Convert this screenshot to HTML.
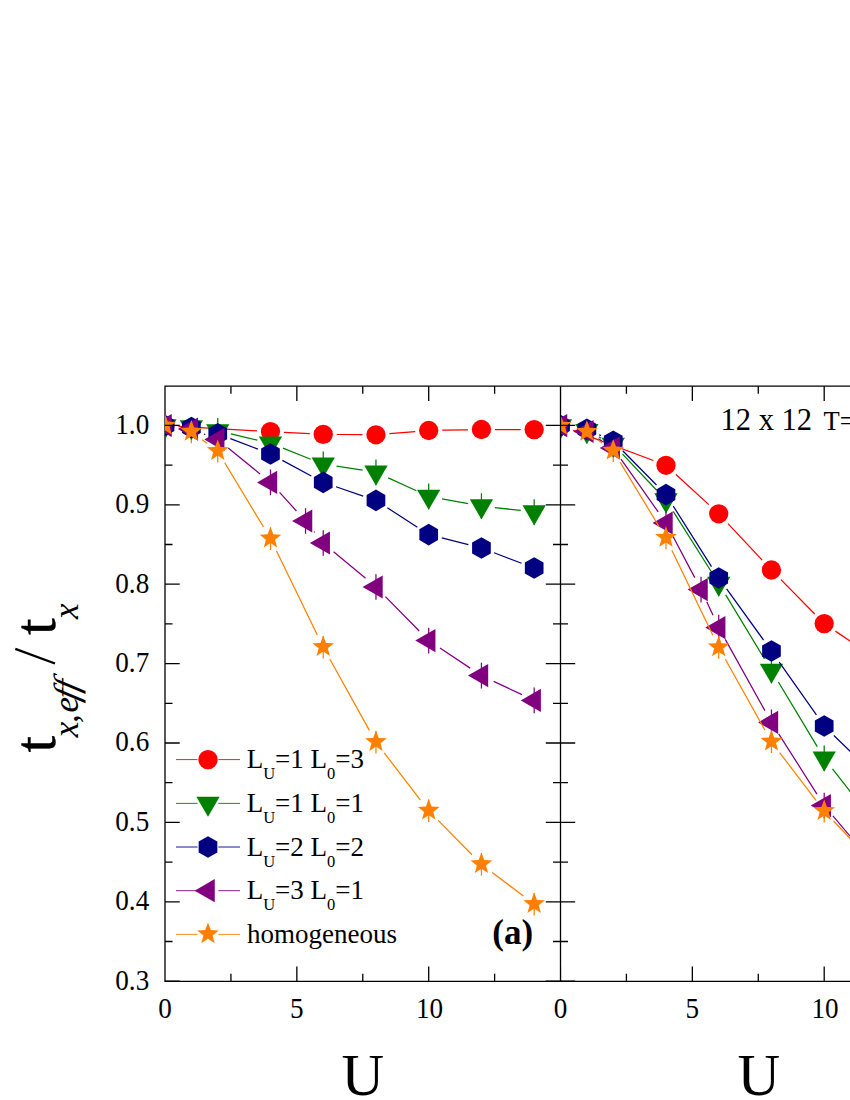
<!DOCTYPE html>
<html><head><meta charset="utf-8"><title>chart</title><style>html,body{margin:0;padding:0;background:#fff}body{width:850px;height:1100px;position:relative;overflow:hidden;font-family:"Liberation Serif",serif}</style></head><body>
<svg width="850" height="1100" viewBox="0 0 850 1100" style="position:absolute;left:0;top:0">
<defs><clipPath id="ca"><rect x="165" y="380" width="396" height="610"/></clipPath><clipPath id="cb"><rect x="560.5" y="380" width="300" height="610"/></clipPath></defs>
<g stroke="#000" stroke-width="1.3" fill="none">
<path d="M165 981.95 V386.2 H851 M165 981.3 H851"/>
</g>
<g clip-path="url(#ca)">

<path d="M217.74 418.1V443.7M270.48 430.4V456M323.22 451.4V477M375.96 459.4V485M428.7 483.6V509.2M481.44 493.2V518.8M534.18 499.2V524.8" stroke="#008000" stroke-width="1.25" fill="none"/>

<path d="M270.48 469.6V495.2M305.55 508.2V533.8M323.22 530.2V555.8M375.96 574.2V599.8M428.7 627.8V653.4M481.44 662.8V688.4M534.18 687.6V713.2" stroke="#800080" stroke-width="1.25" fill="none"/>
<path d="M191.37 420.6V443.2M217.74 439.9V462.5M270.48 527.3V549.9M323.22 635.9V658.5M375.96 730.9V753.5M428.7 799.5V822.1M481.44 853V875.6M534.18 892.9V915.5" stroke="#ff8000" stroke-width="1.25" fill="none"/>
</g><g clip-path="url(#cb)">

<path d="M613.24 431.6V457.2M665.98 487.2V512.8M718.72 570.6V596.2M771.46 657.6V683.2M824.2 745.4V771M876.94 813.1V838.7" stroke="#008000" stroke-width="1.25" fill="none"/>

<path d="M665.98 510.2V535.8M701.05 576.8V602.4M718.72 614.8V640.4M771.46 709.6V735.2M824.2 792.8V818.4M876.94 855.2V880.8" stroke="#800080" stroke-width="1.25" fill="none"/>
<path d="M586.87 420.7V443.3M613.24 439.5V462.1M665.98 526.7V549.3M718.72 636.2V658.8M771.46 730.5V753.1M824.2 799.9V822.5M876.94 855.2V877.8" stroke="#ff8000" stroke-width="1.25" fill="none"/>
</g>
<g clip-path="url(#ca)">
<path d="M178.48 426.28L257 430.82M283.96 432.32L309.74 433.68M336.72 434.5L362.46 434.7M389.42 433.7L415.24 431.6M442.2 430.24L467.94 429.76M494.94 429.53L520.68 429.57" stroke="#ff0000" stroke-width="1.25" fill="none"/>
<circle cx="165" cy="425.5" r="9.65" fill="#ff0000"/>
<circle cx="270.48" cy="431.6" r="9.65" fill="#ff0000"/>
<circle cx="323.22" cy="434.4" r="9.65" fill="#ff0000"/>
<circle cx="375.96" cy="434.8" r="9.65" fill="#ff0000"/>
<circle cx="428.7" cy="430.5" r="9.65" fill="#ff0000"/>
<circle cx="481.44" cy="429.5" r="9.65" fill="#ff0000"/>
<circle cx="534.18" cy="429.6" r="9.65" fill="#ff0000"/>
<path d="M230.89 433.97L257.33 440.13M283.02 448.19L310.68 459.21M336.57 466.22L362.61 470.18M388.23 477.83L416.43 490.77M441.98 498.82L468.16 503.58M494.85 507.53L520.77 510.47" stroke="#008000" stroke-width="1.25" fill="none"/>
<polygon points="153.35,419.27 176.65,419.27 165,439.47" fill="#008000"/>
<polygon points="179.72,420.17 203.02,420.17 191.37,440.37" fill="#008000"/>
<polygon points="206.09,424.17 229.39,424.17 217.74,444.37" fill="#008000"/>
<polygon points="258.83,436.47 282.13,436.47 270.48,456.67" fill="#008000"/>
<polygon points="311.57,457.47 334.87,457.47 323.22,477.67" fill="#008000"/>
<polygon points="364.31,465.47 387.61,465.47 375.96,485.67" fill="#008000"/>
<polygon points="417.05,489.67 440.35,489.67 428.7,509.87" fill="#008000"/>
<polygon points="469.79,499.27 493.09,499.27 481.44,519.47" fill="#008000"/>
<polygon points="522.53,505.27 545.83,505.27 534.18,525.47" fill="#008000"/>
<path d="M230.35 438.63L257.87 449.17M282.37 460.4L311.33 476M336 486.76L363.18 496.04M387.29 507.75L417.37 527.25M441.78 537.92L468.36 544.68M494.06 552.79L521.56 563.21" stroke="#000080" stroke-width="1.25" fill="none"/>
<polygon points="165,414.7 174.35,420.1 174.35,430.9 165,436.3 155.65,430.9 155.65,420.1" fill="#000080"/>
<polygon points="191.37,416.7 200.72,422.1 200.72,432.9 191.37,438.3 182.02,432.9 182.02,422.1" fill="#000080"/>
<polygon points="217.74,423 227.09,428.4 227.09,439.2 217.74,444.6 208.39,439.2 208.39,428.4" fill="#000080"/>
<polygon points="270.48,443.2 279.83,448.6 279.83,459.4 270.48,464.8 261.13,459.4 261.13,448.6" fill="#000080"/>
<polygon points="323.22,471.6 332.57,477 332.57,487.8 323.22,493.2 313.87,487.8 313.87,477" fill="#000080"/>
<polygon points="375.96,489.6 385.31,495 385.31,505.8 375.96,511.2 366.61,505.8 366.61,495" fill="#000080"/>
<polygon points="428.7,523.8 438.05,529.2 438.05,540 428.7,545.4 419.35,540 419.35,529.2" fill="#000080"/>
<polygon points="481.44,537.2 490.79,542.6 490.79,553.4 481.44,558.8 472.09,553.4 472.09,542.6" fill="#000080"/>
<polygon points="534.18,557.2 543.53,562.6 543.53,573.4 534.18,578.8 524.83,573.4 524.83,562.6" fill="#000080"/>
<path d="M203.91 434.09L205.2 434.61M228.22 448.11L260 473.89M279.56 492.39L296.47 511.01M314.01 531.53L314.77 532.47M333.59 551.65L365.59 578.35M385.43 596.62L419.23 630.98M439.95 648.06L470.19 668.14M493.66 681.34L521.96 694.66" stroke="#800080" stroke-width="1.25" fill="none"/>
<polygon points="151.57,425.5 171.72,413.9 171.72,437.1" fill="#800080"/>
<polygon points="177.94,429.1 198.09,417.5 198.09,440.7" fill="#800080"/>
<polygon points="204.31,439.6 224.46,428 224.46,451.2" fill="#800080"/>
<polygon points="257.05,482.4 277.2,470.8 277.2,494" fill="#800080"/>
<polygon points="292.12,521 312.27,509.4 312.27,532.6" fill="#800080"/>
<polygon points="309.79,543 329.94,531.4 329.94,554.6" fill="#800080"/>
<polygon points="362.53,587 382.68,575.4 382.68,598.6" fill="#800080"/>
<polygon points="415.27,640.6 435.42,629 435.42,652.2" fill="#800080"/>
<polygon points="468.01,675.6 488.16,664 488.16,687.2" fill="#800080"/>
<polygon points="520.75,700.4 540.9,688.8 540.9,712" fill="#800080"/>
<path d="M202.26 439.87L206.85 443.23M224.71 462.76L263.51 527.04M276.38 550.74L317.32 635.06M329.77 659L369.41 730.4M384.19 752.9L420.47 800.1M438.18 820.41L471.96 854.69M492.21 872.45L523.41 896.05" stroke="#ff8000" stroke-width="1.25" fill="none"/>
<polygon points="165,414 167.82,421.52 175.84,421.88 169.57,426.88 171.7,434.62 165,430.2 158.3,434.62 160.43,426.88 154.16,421.88 162.18,421.52" fill="#ff8000"/>
<polygon points="191.37,420.1 194.19,427.62 202.21,427.98 195.94,432.98 198.07,440.72 191.37,436.3 184.67,440.72 186.8,432.98 180.53,427.98 188.55,427.62" fill="#ff8000"/>
<polygon points="217.74,439.4 220.56,446.92 228.58,447.28 222.31,452.28 224.44,460.02 217.74,455.6 211.04,460.02 213.17,452.28 206.9,447.28 214.92,446.92" fill="#ff8000"/>
<polygon points="270.48,526.8 273.3,534.32 281.32,534.68 275.05,539.68 277.18,547.42 270.48,543 263.78,547.42 265.91,539.68 259.64,534.68 267.66,534.32" fill="#ff8000"/>
<polygon points="323.22,635.4 326.04,642.92 334.06,643.28 327.79,648.28 329.92,656.02 323.22,651.6 316.52,656.02 318.65,648.28 312.38,643.28 320.4,642.92" fill="#ff8000"/>
<polygon points="375.96,730.4 378.78,737.92 386.8,738.28 380.53,743.28 382.66,751.02 375.96,746.6 369.26,751.02 371.39,743.28 365.12,738.28 373.14,737.92" fill="#ff8000"/>
<polygon points="428.7,799 431.52,806.52 439.54,806.88 433.27,811.88 435.4,819.62 428.7,815.2 422,819.62 424.13,811.88 417.86,806.88 425.88,806.52" fill="#ff8000"/>
<polygon points="481.44,852.5 484.26,860.02 492.28,860.38 486.01,865.38 488.14,873.12 481.44,868.7 474.74,873.12 476.87,865.38 470.6,860.38 478.62,860.02" fill="#ff8000"/>
<polygon points="534.18,892.4 537,899.92 545.02,900.28 538.75,905.28 540.88,913.02 534.18,908.6 527.48,913.02 529.61,905.28 523.34,900.28 531.36,899.92" fill="#ff8000"/>
</g>
<g clip-path="url(#cb)">
<path d="M573.13 430.36L653.35 460.54M675.92 474.44L708.78 504.66M727.96 523.64L762.22 560.16M780.93 579.62L814.73 613.98M835.41 631.12L865.73 651.48" stroke="#ff0000" stroke-width="1.25" fill="none"/>
<circle cx="560.5" cy="425.6" r="9.65" fill="#ff0000"/>
<circle cx="665.98" cy="465.3" r="9.65" fill="#ff0000"/>
<circle cx="718.72" cy="513.8" r="9.65" fill="#ff0000"/>
<circle cx="771.46" cy="570" r="9.65" fill="#ff0000"/>
<circle cx="824.2" cy="623.6" r="9.65" fill="#ff0000"/>
<circle cx="876.94" cy="659" r="9.65" fill="#ff0000"/>
<path d="M598.85 436.92L601.26 438.18M622.53 454.19L656.69 490.21M673.2 511.41L711.5 571.99M725.72 594.94L764.46 658.86M778.41 681.97L817.25 746.63M832.5 768.85L868.64 815.25" stroke="#008000" stroke-width="1.25" fill="none"/>
<polygon points="548.85,419.27 572.15,419.27 560.5,439.47" fill="#008000"/>
<polygon points="575.22,423.97 598.52,423.97 586.87,444.17" fill="#008000"/>
<polygon points="601.59,437.67 624.89,437.67 613.24,457.87" fill="#008000"/>
<polygon points="654.33,493.27 677.63,493.27 665.98,513.47" fill="#008000"/>
<polygon points="707.07,576.67 730.37,576.67 718.72,596.87" fill="#008000"/>
<polygon points="759.81,663.67 783.11,663.67 771.46,683.87" fill="#008000"/>
<polygon points="812.55,751.47 835.85,751.47 824.2,771.67" fill="#008000"/>
<polygon points="865.29,819.17 888.59,819.17 876.94,839.37" fill="#008000"/>
<path d="M599.16 434.79L600.95 435.61M622.73 450.81L656.49 484.99M673.2 506.01L711.5 566.59M726.63 588.94L763.55 640.06M779.23 662.04L816.43 714.96M833.86 735.43L867.28 768.07" stroke="#000080" stroke-width="1.25" fill="none"/>
<polygon points="560.5,414.8 569.85,420.2 569.85,431 560.5,436.4 551.15,431 551.15,420.2" fill="#000080"/>
<polygon points="586.87,418.4 596.22,423.8 596.22,434.6 586.87,440 577.52,434.6 577.52,423.8" fill="#000080"/>
<polygon points="613.24,430.4 622.59,435.8 622.59,446.6 613.24,452 603.89,446.6 603.89,435.8" fill="#000080"/>
<polygon points="665.98,483.8 675.33,489.2 675.33,500 665.98,505.4 656.63,500 656.63,489.2" fill="#000080"/>
<polygon points="718.72,567.2 728.07,572.6 728.07,583.4 718.72,588.8 709.37,583.4 709.37,572.6" fill="#000080"/>
<polygon points="771.46,640.2 780.81,645.6 780.81,656.4 771.46,661.8 762.11,656.4 762.11,645.6" fill="#000080"/>
<polygon points="824.2,715.2 833.55,720.6 833.55,731.4 824.2,736.8 814.85,731.4 814.85,720.6" fill="#000080"/>
<polygon points="876.94,766.7 886.29,772.1 886.29,782.9 876.94,788.3 867.59,782.9 867.59,772.1" fill="#000080"/>
<path d="M598.31 438.66L601.8 440.84M621.01 459.04L658.21 511.96M672.27 534.94L694.76 577.66M706.74 601.84L713.03 615.36M725.28 639.4L764.9 710.6M778.69 733.8L816.97 794.2M832.91 815.91L868.23 857.69" stroke="#800080" stroke-width="1.25" fill="none"/>
<polygon points="547.07,425.7 567.22,414.1 567.22,437.3" fill="#800080"/>
<polygon points="573.44,431.5 593.59,419.9 593.59,443.1" fill="#800080"/>
<polygon points="599.81,448 619.96,436.4 619.96,459.6" fill="#800080"/>
<polygon points="652.55,523 672.7,511.4 672.7,534.6" fill="#800080"/>
<polygon points="687.62,589.6 707.77,578 707.77,601.2" fill="#800080"/>
<polygon points="705.29,627.6 725.44,616 725.44,639.2" fill="#800080"/>
<polygon points="758.03,722.4 778.18,710.8 778.18,734" fill="#800080"/>
<polygon points="810.77,805.6 830.92,794 830.92,817.2" fill="#800080"/>
<polygon points="863.51,868 883.66,856.4 883.66,879.6" fill="#800080"/>
<path d="M597.86 439.84L602.25 442.96M620.23 462.35L658.99 526.45M671.84 550.16L712.86 635.34M725.31 659.28L764.87 730.02M779.63 752.55L816.03 800.45M833.52 820.97L867.62 856.73" stroke="#ff8000" stroke-width="1.25" fill="none"/>
<polygon points="560.5,414.2 563.32,421.72 571.34,422.08 565.07,427.08 567.2,434.82 560.5,430.4 553.8,434.82 555.93,427.08 549.66,422.08 557.68,421.72" fill="#ff8000"/>
<polygon points="586.87,420.2 589.69,427.72 597.71,428.08 591.44,433.08 593.57,440.82 586.87,436.4 580.17,440.82 582.3,433.08 576.03,428.08 584.05,427.72" fill="#ff8000"/>
<polygon points="613.24,439 616.06,446.52 624.08,446.88 617.81,451.88 619.94,459.62 613.24,455.2 606.54,459.62 608.67,451.88 602.4,446.88 610.42,446.52" fill="#ff8000"/>
<polygon points="665.98,526.2 668.8,533.72 676.82,534.08 670.55,539.08 672.68,546.82 665.98,542.4 659.28,546.82 661.41,539.08 655.14,534.08 663.16,533.72" fill="#ff8000"/>
<polygon points="718.72,635.7 721.54,643.22 729.56,643.58 723.29,648.58 725.42,656.32 718.72,651.9 712.02,656.32 714.15,648.58 707.88,643.58 715.9,643.22" fill="#ff8000"/>
<polygon points="771.46,730 774.28,737.52 782.3,737.88 776.03,742.88 778.16,750.62 771.46,746.2 764.76,750.62 766.89,742.88 760.62,737.88 768.64,737.52" fill="#ff8000"/>
<polygon points="824.2,799.4 827.02,806.92 835.04,807.28 828.77,812.28 830.9,820.02 824.2,815.6 817.5,820.02 819.63,812.28 813.36,807.28 821.38,806.92" fill="#ff8000"/>
<polygon points="876.94,854.7 879.76,862.22 887.78,862.58 881.51,867.58 883.64,875.32 876.94,870.9 870.24,875.32 872.37,867.58 866.1,862.58 874.12,862.22" fill="#ff8000"/>
</g>
<path d="M560.5 386.2V981.3M165 981.2h14.7M545.8 981.2h29.4M165 941.5h7.5M553 941.5h15M165 901.8h14.7M545.8 901.8h29.4M165 862.1h7.5M553 862.1h15M165 822.4h14.7M545.8 822.4h29.4M165 782.7h7.5M553 782.7h15M165 743h14.7M545.8 743h29.4M165 703.3h7.5M553 703.3h15M165 663.6h14.7M545.8 663.6h29.4M165 623.9h7.5M553 623.9h15M165 584.2h14.7M545.8 584.2h29.4M165 544.5h7.5M553 544.5h15M165 504.8h14.7M545.8 504.8h29.4M165 465.1h7.5M553 465.1h15M165 425.4h14.7M545.8 425.4h29.4M230.93 386.2v7.5M230.93 981.3v-7.5M296.85 386.2v14.7M296.85 981.3v-14.7M362.77 386.2v7.5M362.77 981.3v-7.5M428.7 386.2v14.7M428.7 981.3v-14.7M494.62 386.2v7.5M494.62 981.3v-7.5M560.55 386.2v14.7M560.55 981.3v-14.7M560.5 386.2v14.7M560.5 981.3v-14.7M626.42 386.2v7.5M626.42 981.3v-7.5M692.35 386.2v14.7M692.35 981.3v-14.7M758.27 386.2v7.5M758.27 981.3v-7.5M824.2 386.2v14.7M824.2 981.3v-14.7" stroke="#000" stroke-width="1.3" fill="none"/>
<g font-family="'Liberation Serif', serif" font-size="29.5" fill="#000">
<text transform="translate(149.2,989.6) scale(0.92,1)" text-anchor="end">0.3</text>
<text transform="translate(149.2,910.2) scale(0.92,1)" text-anchor="end">0.4</text>
<text transform="translate(149.2,830.8) scale(0.92,1)" text-anchor="end">0.5</text>
<text transform="translate(149.2,751.4) scale(0.92,1)" text-anchor="end">0.6</text>
<text transform="translate(149.2,672) scale(0.92,1)" text-anchor="end">0.7</text>
<text transform="translate(149.2,592.6) scale(0.92,1)" text-anchor="end">0.8</text>
<text transform="translate(149.2,513.2) scale(0.92,1)" text-anchor="end">0.9</text>
<text transform="translate(149.2,433.8) scale(0.92,1)" text-anchor="end">1.0</text>
<text transform="translate(165,1017.8) scale(0.92,1)" text-anchor="middle">0</text>
<text transform="translate(296.85,1017.8) scale(0.92,1)" text-anchor="middle">5</text>
<text transform="translate(429.6,1017.8) scale(0.92,1)" text-anchor="middle">10</text>
<text transform="translate(560.5,1017.8) scale(0.92,1)" text-anchor="middle">0</text>
<text transform="translate(692.35,1017.8) scale(0.92,1)" text-anchor="middle">5</text>
<text transform="translate(825.1,1017.8) scale(0.92,1)" text-anchor="middle">10</text>
</g>
<g font-family="'Liberation Serif', serif" fill="#000">
<text x="362.7" y="1094.8" font-size="59" text-anchor="middle">U</text>
<text x="758.7" y="1094.8" font-size="59" text-anchor="middle">U</text>
<text x="720.5" y="430" font-size="30.5">12 x 12<tspan x="823.6" font-size="26.5">T=0.25</tspan></text>
<text x="492.3" y="944.3" font-size="35" font-weight="bold">(a)</text>
<g transform="translate(55,752.2) rotate(-90)" style="font-variant-ligatures:none">
<text x="-0.3" y="0" font-size="60" stroke="#000" stroke-width="0.4">t</text>
<text x="15.0 29.3 39.6" y="23" font-size="35" font-style="italic">x,e</text>
<text transform="translate(0,23) skewX(-13.7)" x="50.4 59.7" y="0" font-size="35" font-style="italic">ff</text>
<text x="117.2" y="0" font-size="60" stroke="#000" stroke-width="0.4">t</text>
<text x="133.1" y="23" font-size="35" font-style="italic">x</text>
<line x1="88.7" y1="0" x2="103.4" y2="-39.7" stroke="#000" stroke-width="2.3"/>
</g>
</g>
<path d="M176 759.6H197.5M218.3 759.6H240" stroke="#ff0000" stroke-width="0.9" fill="none"/>
<circle cx="208" cy="759.6" r="9.65" fill="#ff0000"/>
<text x="246.7" y="768.2" font-family="'Liberation Serif', serif" font-size="27" fill="#000" xml:space="preserve">L<tspan font-size="16.5" dy="11">U</tspan><tspan dy="-11">=1 L</tspan><tspan font-size="16.5" dy="11">0</tspan><tspan dy="-11">=3</tspan></text>
<path d="M176 803.4H197.5M218.3 803.4H240" stroke="#008000" stroke-width="0.9" fill="none"/>
<polygon points="196.35,796.67 219.65,796.67 208,816.87" fill="#008000"/>
<text x="246.7" y="812" font-family="'Liberation Serif', serif" font-size="27" fill="#000" xml:space="preserve">L<tspan font-size="16.5" dy="11">U</tspan><tspan dy="-11">=1 L</tspan><tspan font-size="16.5" dy="11">0</tspan><tspan dy="-11">=1</tspan></text>
<path d="M176 847H197.5M218.3 847H240" stroke="#000080" stroke-width="0.9" fill="none"/>
<polygon points="208,836.2 217.35,841.6 217.35,852.4 208,857.8 198.65,852.4 198.65,841.6" fill="#000080"/>
<text x="246.7" y="855.6" font-family="'Liberation Serif', serif" font-size="27" fill="#000" xml:space="preserve">L<tspan font-size="16.5" dy="11">U</tspan><tspan dy="-11">=2 L</tspan><tspan font-size="16.5" dy="11">0</tspan><tspan dy="-11">=2</tspan></text>
<path d="M176 890.7H197.5M218.3 890.7H240" stroke="#800080" stroke-width="0.9" fill="none"/>
<polygon points="194.57,890.7 214.72,879.1 214.72,902.3" fill="#800080"/>
<text x="246.7" y="899.3" font-family="'Liberation Serif', serif" font-size="27" fill="#000" xml:space="preserve">L<tspan font-size="16.5" dy="11">U</tspan><tspan dy="-11">=3 L</tspan><tspan font-size="16.5" dy="11">0</tspan><tspan dy="-11">=1</tspan></text>
<path d="M176 934.4H197.5M218.3 934.4H240" stroke="#ff8000" stroke-width="0.9" fill="none"/>
<polygon points="208,922.6 210.82,930.12 218.84,930.48 212.57,935.48 214.7,943.22 208,938.8 201.3,943.22 203.43,935.48 197.16,930.48 205.18,930.12" fill="#ff8000"/>
<text x="247" y="943" font-family="'Liberation Serif', serif" font-size="27" fill="#000">homogeneous</text>
</svg>
</body></html>
